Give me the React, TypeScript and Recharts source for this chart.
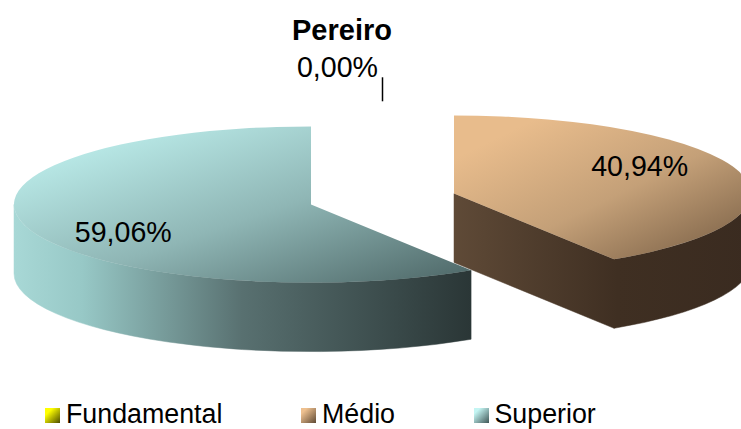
import { PieChart, Pie, Legend } from "recharts";

const categories = ["Fundamental", "Médio", "Superior"];
const shares = [0, 40.94, 59.06];
const chartTitle = "Pereiro";

const tableData = categories.map((name, i) => ({ name, value: shares[i] }));

const FONT = "'Liberation Sans', Arial, sans-serif";
const SQUASH = 0.263;
const DEPTH = 69;
const EXPLODE = 74.5;

const swatches: Record<string, string> = {
  Fundamental: "linear-gradient(135deg, #ffff00 25%, #4c4c00)",
  "Médio": "linear-gradient(135deg, #eec08f 20%, #5f4a35)",
  Superior: "linear-gradient(135deg, #c4f5f3 20%, #3f5656)",
};

const swatchLeft: Record<string, number> = { Fundamental: 45, "Médio": 301, Superior: 473.5 };

const rad = (a: number) => (a * Math.PI) / 180;

function sliceCentre(p: any) {
  const mid = (p.startAngle + p.endAngle) / 2;
  return {
    x: p.cx + EXPLODE * Math.cos(rad(mid)),
    y: p.cy - EXPLODE * SQUASH * Math.sin(rad(mid)),
  };
}

function PieSlice(props: any) {
  const { outerRadius: r, startAngle, endAngle } = props;
  if (Math.abs(endAngle - startAngle) < 0.01) return null;
  const name = props.payload?.name ?? props.name;
  const id = name === "Superior" ? "sup" : "med";
  const c = sliceCentre(props);
  const at = (a: number, dy = 0) => ({
    x: c.x + r * Math.cos(rad(a)),
    y: c.y - r * SQUASH * Math.sin(rad(a)) + dy,
  });
  const ry = r * SQUASH;
  const s = at(startAngle);
  const e = at(endAngle);
  const large = Math.abs(startAngle - endAngle) > 180 ? 1 : 0;
  const top = `M${c.x},${c.y} L${s.x},${s.y} A${r},${ry} 0 ${large} 1 ${e.x},${e.y} Z`;

  // side faces, only the ones that turn towards the viewer
  let side = "";
  const wallStart = Math.min(startAngle, 0);
  const wallEnd = Math.max(endAngle, -180);
  if (wallStart > wallEnd) {
    const a = at(wallStart);
    const b = at(wallEnd);
    const a2 = at(wallStart, DEPTH);
    const b2 = at(wallEnd, DEPTH);
    side += `M${a.x},${a.y} A${r},${ry} 0 0 1 ${b.x},${b.y} L${b2.x},${b2.y} A${r},${ry} 0 0 0 ${a2.x},${a2.y} Z`;
  }
  if (Math.cos(rad(endAngle)) > 0.001) {
    const e2 = at(endAngle, DEPTH);
    side += `M${c.x},${c.y} L${e.x},${e.y} L${e2.x},${e2.y} L${c.x},${c.y + DEPTH} Z`;
  }
  if (Math.cos(rad(startAngle)) < -0.001) {
    const s2 = at(startAngle, DEPTH);
    side += `M${c.x},${c.y} L${s.x},${s.y} L${s2.x},${s2.y} L${c.x},${c.y + DEPTH} Z`;
  }

  return (
    <g>
      <path d={side} fill={`url(#${id}Wall)`} stroke={`url(#${id}Wall)`} strokeWidth={0.5} />
      <path d={top} fill={`url(#${id}Top)`} />
    </g>
  );
}

function SliceLabel(props: any) {
  const { outerRadius: r, value } = props;
  const mid = props.midAngle;
  const text = `${Number(value).toFixed(2).replace(".", ",")}%`;
  const c = {
    x: props.cx + EXPLODE * Math.cos(rad(mid)),
    y: props.cy - EXPLODE * SQUASH * Math.sin(rad(mid)),
  };
  if (value === 0) {
    const y = c.y - r * SQUASH;
    return (
      <g>
        <line x1={props.cx} x2={props.cx} y1={y} y2={y - 24} stroke="#000" strokeWidth={1.5} />
        <text x={props.cx - 45} y={y - 34} textAnchor="middle" dominantBaseline="central" fontFamily={FONT} fontSize={28.6} fill="#000">
          {text}
        </text>
      </g>
    );
  }
  return (
    <text
      x={c.x + r * 0.655 * Math.cos(rad(mid)) - 1}
      y={c.y - r * 0.655 * 0.51 * Math.sin(rad(mid))}
      textAnchor="middle"
      dominantBaseline="central"
      fontFamily={FONT}
      fontSize={28.6}
      fill="#000"
    >
      {text}
    </text>
  );
}

function LegendRow({ payload }: any) {
  return (
    <div style={{ position: "relative", width: 741, height: 30 }}>
      {(payload ?? []).map((entry: any) => (
        <div key={entry.value} style={{ position: "absolute", left: swatchLeft[entry.value], top: 0, display: "flex", alignItems: "center", height: 30 }}>
          <span style={{ width: 15, height: 15, background: swatches[entry.value], marginRight: 6, marginTop: 2, display: "inline-block" }} />
          <span style={{ fontFamily: FONT, fontSize: 26.8, color: "#000", lineHeight: "30px" }}>{entry.value}</span>
        </div>
      ))}
    </div>
  );
}

export default function App() {
  return (
    <div style={{ position: "absolute", left: 0, top: 0, width: 741, height: 429, overflow: "hidden", background: "#fff" }}>
      <PieChart width={741} height={429} margin={{ top: 0, right: 0, bottom: 0, left: 0 }}>
        <defs>
          <linearGradient id="medTop" x1="0" y1="0" x2="1" y2="1">
            <stop offset="0.15" stopColor="#e8bc8c" />
            <stop offset="0.55" stopColor="#c4a078" />
            <stop offset="1" stopColor="#735a41" />
          </linearGradient>
          <linearGradient id="medWall" x1="0" y1="0" x2="1" y2="0">
            <stop offset="0" stopColor="#5f4a37" />
            <stop offset="0.55" stopColor="#3f2f22" />
            <stop offset="1" stopColor="#3a2b20" />
          </linearGradient>
          <linearGradient id="supTop" x1="0" y1="0" x2="1" y2="1">
            <stop offset="0.15" stopColor="#b8e8e6" />
            <stop offset="0.55" stopColor="#8fb6b5" />
            <stop offset="1" stopColor="#4c6565" />
          </linearGradient>
          <linearGradient id="supWall" x1="0" y1="0" x2="1" y2="0">
            <stop offset="0" stopColor="#a8d8d6" />
            <stop offset="0.15" stopColor="#97c8c6" />
            <stop offset="0.5" stopColor="#587070" />
            <stop offset="1" stopColor="#2a3636" />
          </linearGradient>
        </defs>
        <text x={342} y={30} textAnchor="middle" dominantBaseline="central" fontFamily={FONT} fontSize={29} fontWeight="bold" fill="#000">
          {chartTitle}
        </text>
        <Pie
          data={tableData}
          dataKey="value"
          nameKey="name"
          cx={382.5}
          cy={199}
          outerRadius={297}
          startAngle={90}
          endAngle={-270}
          stroke="none"
          shape={PieSlice}
          label={SliceLabel}
          labelLine={false}
          isAnimationActive={false}
        />
        <Legend content={LegendRow} wrapperStyle={{ position: "absolute", left: 0, top: 399, width: 741 }} />
      </PieChart>
    </div>
  );
}
